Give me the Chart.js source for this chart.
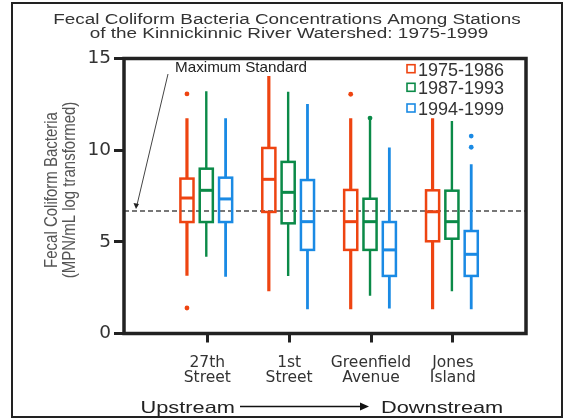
<!DOCTYPE html>
<html>
<head>
<meta charset="utf-8">
<script src="https://cdn.jsdelivr.net/npm/chart.js@4.4.1/dist/chart.umd.min.js"></script>
<style>
  body { margin: 0; background: #fff; }
  canvas { display: block; }
</style>
</head>
<body>
<canvas id="myChart" width="565" height="419"></canvas>
<script>
// stations along the river, upstream to downstream
const stations = [['27th', 'Street'], ['1st', 'Street'], ['Greenfield', 'Avenue'], ['Jones', 'Island']];
const periods = ['1975-1986', '1987-1993', '1994-1999'];

// per station: [low whisker, Q1, median, Q3, high whisker]
const fc1975 = [[3.15, 6.08, 7.39, 8.45, 11.74], [2.30, 6.63, 8.41, 10.12, 14.05], [1.32, 4.56, 6.10, 7.83, 11.74], [1.32, 5.03, 6.64, 7.81, 11.74]];
const fc1987 = [[4.19, 6.08, 7.81, 8.99, 13.21], [3.14, 6.01, 7.70, 9.36, 13.18], [2.06, 4.56, 6.10, 7.35, 11.70], [2.30, 5.17, 6.10, 7.79, 11.59]];
const fc1994 = [[3.10, 6.08, 7.34, 8.50, 11.74], [1.32, 4.56, 6.10, 8.37, 12.52], [1.37, 3.14, 4.56, 6.08, 10.14], [1.32, 3.14, 4.32, 5.59, 9.23]];

// outliers: [station index, value]
const out1975 = [[0, 13.07], [0, 1.39], [2, 13.05]];
const out1987 = [[2, 11.75]];
const out1994 = [[3, 10.77], [3, 10.16]];

const maxStandard = 6.68;
const yTicks = [0, 5, 10, 15];

const summaries = [fc1975, fc1987, fc1994];
const outliers = [out1975, out1987, out1994];
const colors = ['#ee4411', '#0b8a48', '#1a8ae4'];
const whiskerWidth = [3.2, 2.4, 2.8];
const offsets = [-0.248, -0.012, 0.224];   // box position inside a station group
const boxWidth = 0.16;

// text drawn wider than the font, like the original artwork
function stretchText(ctx, text, x, y, size, sx, align, color) {
    ctx.save();
    ctx.font = size + 'px "Liberation Sans", Arial, sans-serif';
    ctx.fillStyle = color || '#333';
    ctx.textAlign = align || 'left';
    ctx.textBaseline = 'alphabetic';
    ctx.translate(x, y);
    ctx.scale(sx, 1);
    ctx.fillText(text, 0, 0);
    ctx.restore();
}

const boxPlot = {
    id: 'boxPlot',
    beforeDatasetsDraw(chart) {
        const { ctx, chartArea, scales: { x, y } } = chart;
        ctx.save();

        // maximum standard line
        ctx.strokeStyle = '#777';
        ctx.lineWidth = 2;
        ctx.setLineDash([5, 3]);
        ctx.beginPath();
        ctx.moveTo(chartArea.left, y.getPixelForValue(maxStandard));
        ctx.lineTo(chartArea.right, y.getPixelForValue(maxStandard));
        ctx.stroke();
        ctx.setLineDash([]);

        summaries.forEach((rows, p) => {
            ctx.strokeStyle = colors[p];
            rows.forEach((s, i) => {
                const cx = x.getPixelForValue(i + 1 + offsets[p]);
                const half = (x.getPixelForValue(1 + boxWidth) - x.getPixelForValue(1)) / 2;
                const [lo, q1, med, q3, hi] = s.map(v => y.getPixelForValue(v));

                ctx.lineWidth = whiskerWidth[p];
                ctx.beginPath();
                ctx.moveTo(cx, hi); ctx.lineTo(cx, q3);
                ctx.moveTo(cx, q1); ctx.lineTo(cx, lo);
                ctx.stroke();

                ctx.lineWidth = 2.5;
                ctx.strokeRect(cx - half, q3, half * 2, q1 - q3);
                ctx.lineWidth = 3;
                ctx.beginPath();
                ctx.moveTo(cx - half, med); ctx.lineTo(cx + half, med);
                ctx.stroke();
            });
        });
        ctx.restore();
    },
    afterDraw(chart) {
        const { ctx, chartArea, scales: { y } } = chart;
        ctx.save();

        // plot frame and outer border
        ctx.strokeStyle = '#222';
        ctx.lineWidth = 3.5;
        ctx.strokeRect(chartArea.left, chartArea.top, chartArea.right - chartArea.left, chartArea.bottom - chartArea.top);
        ctx.lineWidth = 2;
        ctx.strokeRect(12, 3, 550, 414);

        // title
        stretchText(ctx, 'Fecal Coliform Bacteria Concentrations Among Stations', 287, 23.5, 14, 1.35, 'center');
        stretchText(ctx, 'of the Kinnickinnic River Watershed: 1975-1999', 289, 37.5, 14, 1.35, 'center');

        // y axis title
        ctx.save();
        ctx.translate(57, 190);
        ctx.rotate(-Math.PI / 2);
        ctx.scale(1, 1.2);
        stretchText(ctx, 'Fecal Coliform Bacteria', 0, 0, 15, 1, 'center', '#555');
        ctx.restore();
        ctx.save();
        ctx.translate(75, 190);
        ctx.rotate(-Math.PI / 2);
        ctx.scale(1, 1.2);
        stretchText(ctx, '(MPN/mL log transformed)', 0, 0, 15, 1, 'center', '#555');
        ctx.restore();

        // legend
        const legendY = [75.7, 94.3, 115];
        periods.forEach((label, p) => {
            ctx.strokeStyle = colors[p];
            ctx.lineWidth = 1.6;
            ctx.strokeRect(407, legendY[p] - 11, 8, 8);
            stretchText(ctx, label, 418, legendY[p], 18, 1, 'left', '#333');
        });

        // annotation arrow to the standard line
        stretchText(ctx, 'Maximum Standard', 175, 71.5, 14.5, 1.05, 'left', '#222');
        const tipY = y.getPixelForValue(maxStandard) - 4;
        ctx.strokeStyle = '#444';
        ctx.fillStyle = '#222';
        ctx.lineWidth = 1;
        ctx.beginPath();
        ctx.moveTo(168, 74);
        ctx.lineTo(136.5, tipY);
        ctx.stroke();
        ctx.beginPath();
        ctx.moveTo(136, tipY + 2);
        ctx.lineTo(133.5, tipY - 4);
        ctx.lineTo(139, tipY - 3);
        ctx.closePath();
        ctx.fill();

        // flow direction
        stretchText(ctx, 'Upstream', 140.5, 413, 16.5, 1.32, 'left', '#222');
        stretchText(ctx, 'Downstream', 381, 413, 16.5, 1.32, 'left', '#222');
        ctx.strokeStyle = '#111';
        ctx.fillStyle = '#111';
        ctx.lineWidth = 1.5;
        ctx.beginPath();
        ctx.moveTo(240, 406.5);
        ctx.lineTo(362, 406.5);
        ctx.stroke();
        ctx.beginPath();
        ctx.moveTo(369, 406.5);
        ctx.lineTo(360, 402.5);
        ctx.lineTo(360, 410.5);
        ctx.closePath();
        ctx.fill();

        ctx.restore();
    }
};

const ctx = document.getElementById('myChart').getContext('2d');
const myChart = new Chart(ctx, {
    type: 'scatter',
    data: {
        datasets: outliers.map((pts, p) => ({
            label: periods[p],
            data: pts.map(([i, v]) => ({ x: i + 1 + offsets[p], y: v })),
            backgroundColor: colors[p],
            borderWidth: 0,
            pointRadius: 2.4
        }))
    },
    options: {
        responsive: false,
        animation: false,
        layout: { padding: { top: 58.5, right: 39, left: 0, bottom: 0 } },
        scales: {
            x: {
                type: 'linear',
                min: -0.017,
                max: 4.893,
                afterBuildTicks: s => { s.ticks = stations.map((_, i) => ({ value: i + 1 })); },
                afterFit: s => { s.height = 85.5; },
                ticks: {
                    callback: v => stations[v - 1],
                    font: { family: '"DejaVu Sans"', size: 15.5, lineHeight: 1.03 },
                    color: '#333',
                    padding: 12,
                    maxRotation: 0,
                    autoSkip: false
                },
                grid: { drawOnChartArea: false, tickLength: 9, tickWidth: 3, tickColor: '#222' },
                border: { display: false }
            },
            y: {
                min: 0,
                max: 15,
                afterBuildTicks: s => { s.ticks = yTicks.map(v => ({ value: v })); },
                afterFit: s => { s.width = 124; },
                ticks: {
                    font: { family: '"DejaVu Sans"', size: 18.5 },
                    color: '#333',
                    padding: 3
                },
                grid: { drawOnChartArea: false, tickLength: 10, tickWidth: 3, tickColor: '#222' },
                border: { display: false }
            }
        },
        plugins: {
            legend: { display: false },
            tooltip: { enabled: false },
            title: { display: false }
        }
    },
    plugins: [boxPlot]
});
</script>
</body>
</html>
